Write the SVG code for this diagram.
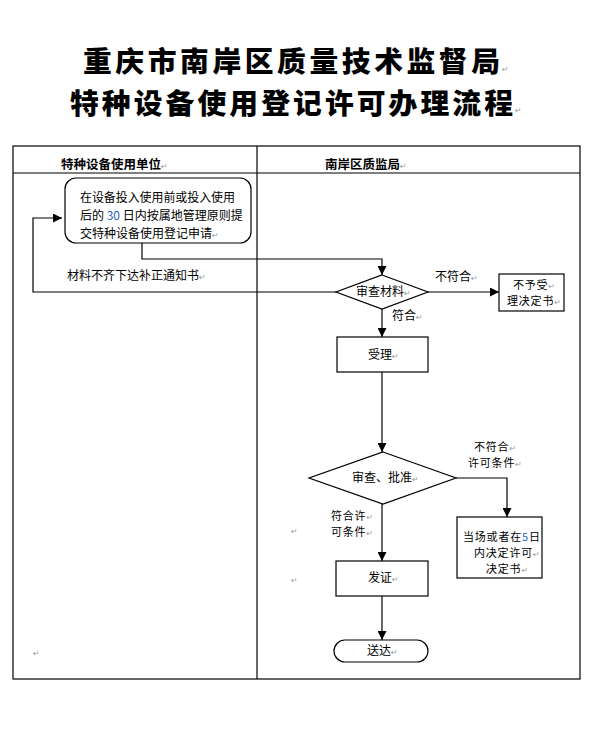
<svg xmlns="http://www.w3.org/2000/svg" width="595" height="742" viewBox="0 0 595 742">
<style>
text{font-family:"Noto Sans CJK SC","Noto Sans",sans-serif;fill:#000;}
.t{font-size:28.8px;font-weight:900;}
.h{font-size:12.5px;font-weight:bold;}
.b{font-size:12px;}
.s{font-size:11px;letter-spacing:0.8px;}
.pm{font-family:"DejaVu Sans",sans-serif;font-size:8px;fill:#999;font-weight:normal;letter-spacing:0;}
.ln{fill:none;stroke:#000;stroke-width:1.2;}
.sh{fill:#fff;stroke:#000;stroke-width:1.2;}
.num{fill:#1f5fcf;}
</style>
<defs>
<marker id="ah" viewBox="0 0 10 10" refX="10" refY="5" markerWidth="9" markerHeight="9" markerUnits="userSpaceOnUse" orient="auto">
<path d="M0,0 L10,5 L0,10 z" fill="#000"/>
</marker>
</defs>
<rect width="595" height="742" fill="#fff"/>
<g id="title">
<text class="t" x="83" y="71.5" textLength="417" lengthAdjust="spacing">重庆市南岸区质量技术监督局</text>
<text class="pm" x="502" y="72">↵</text>
<text class="t" x="70" y="114" textLength="443" lengthAdjust="spacing">特种设备使用登记许可办理流程</text>
<text class="pm" x="515" y="113">↵</text>
</g>
<g id="table">
<rect x="13" y="146" width="567" height="533" fill="none" stroke="#000" stroke-width="1.2"/>
<line x1="13" y1="173" x2="580" y2="173" stroke="#000" stroke-width="1.2"/>
<line x1="257" y1="146" x2="257" y2="679" stroke="#000" stroke-width="1.2"/>
<text class="h" x="61" y="169">特种设备使用单位<tspan class="pm">↵</tspan></text>
<text class="h" x="325" y="169">南岸区质监局<tspan class="pm">↵</tspan></text>
</g>
<g id="connectors">
<polyline class="ln" points="142,243 142,259 382,259 382,275" marker-end="url(#ah)"/>
<polyline class="ln" points="336,292 33,292 33,218 62,218" marker-end="url(#ah)"/>
<line class="ln" x1="428" y1="292" x2="499" y2="292" marker-end="url(#ah)"/>
<line class="ln" x1="382" y1="309" x2="382" y2="337" marker-end="url(#ah)"/>
<line class="ln" x1="382" y1="372" x2="382" y2="452" marker-end="url(#ah)"/>
<polyline class="ln" points="456,478 507,478 507,517" marker-end="url(#ah)"/>
<line class="ln" x1="382" y1="504" x2="382" y2="561" marker-end="url(#ah)"/>
<line class="ln" x1="382" y1="596" x2="382" y2="640" marker-end="url(#ah)"/>
<text class="b" x="67" y="280">材料不齐下达补正通知书<tspan class="pm">↵</tspan></text>
<text class="b" x="435" y="281">不符合<tspan class="pm">↵</tspan></text>
<text class="b" x="392" y="320">符合<tspan class="pm">↵</tspan></text>
<text class="s" x="474" y="451">不符合<tspan class="pm">↵</tspan></text>
<text class="s" x="468" y="467">许可条件<tspan class="pm">↵</tspan></text>
<text class="s" x="331" y="520">符合许<tspan class="pm">↵</tspan></text>
<text class="s" x="331" y="536">可条件<tspan class="pm">↵</tspan></text>
</g>
<g id="marks">
<text class="pm" x="291" y="534">↵</text>
<text class="pm" x="291" y="583">↵</text>
<text class="pm" x="33" y="656">↵</text>
</g>
<g id="apply">
<rect class="sh" x="65" y="178" width="186" height="65" rx="11" ry="11"/>
<text class="b" x="80" y="201.5" textLength="155" lengthAdjust="spacing">在设备投入使用前或投入使用</text>
<text class="b" x="80" y="219.5">后的 <tspan class="num">30</tspan> 日内按属地管理原则提</text>
<text class="b" x="80" y="237.5">交特种设备使用登记申请<tspan class="pm">↵</tspan></text>
</g>
<g id="check">
<polygon class="sh" points="382,275 428,292 382,309 336,292"/>
<text class="b" x="356" y="296">审查材料<tspan class="pm">↵</tspan></text>
</g>
<g id="reject">
<rect class="sh" x="499" y="274" width="65" height="37"/>
<text class="s" x="513" y="289">不予受<tspan class="pm">↵</tspan></text>
<text class="s" x="507" y="305">理决定书<tspan class="pm">↵</tspan></text>
</g>
<g id="accept">
<rect class="sh" x="337" y="337" width="91" height="35"/>
<text class="b" x="368" y="359">受理<tspan class="pm">↵</tspan></text>
</g>
<g id="approve">
<polygon class="sh" points="383,452 456,478 383,504 309,478"/>
<text class="b" x="352" y="482">审查、批准<tspan class="pm">↵</tspan></text>
</g>
<g id="decide">
<rect class="sh" x="457" y="517" width="85" height="61"/>
<text class="s" x="463" y="541">当场或者在<tspan class="num">5</tspan>日</text>
<text class="s" x="474" y="557">内决定许可<tspan class="pm">↵</tspan></text>
<text class="s" x="486" y="573">决定书<tspan class="pm">↵</tspan></text>
</g>
<g id="issue">
<rect class="sh" x="336" y="561" width="92" height="35"/>
<text class="b" x="368" y="582">发证<tspan class="pm">↵</tspan></text>
</g>
<g id="deliver">
<rect class="sh" x="334" y="640" width="94" height="22" rx="11" ry="11"/>
<text class="b" x="367" y="655">送达<tspan class="pm">↵</tspan></text>
</g>
</svg>
